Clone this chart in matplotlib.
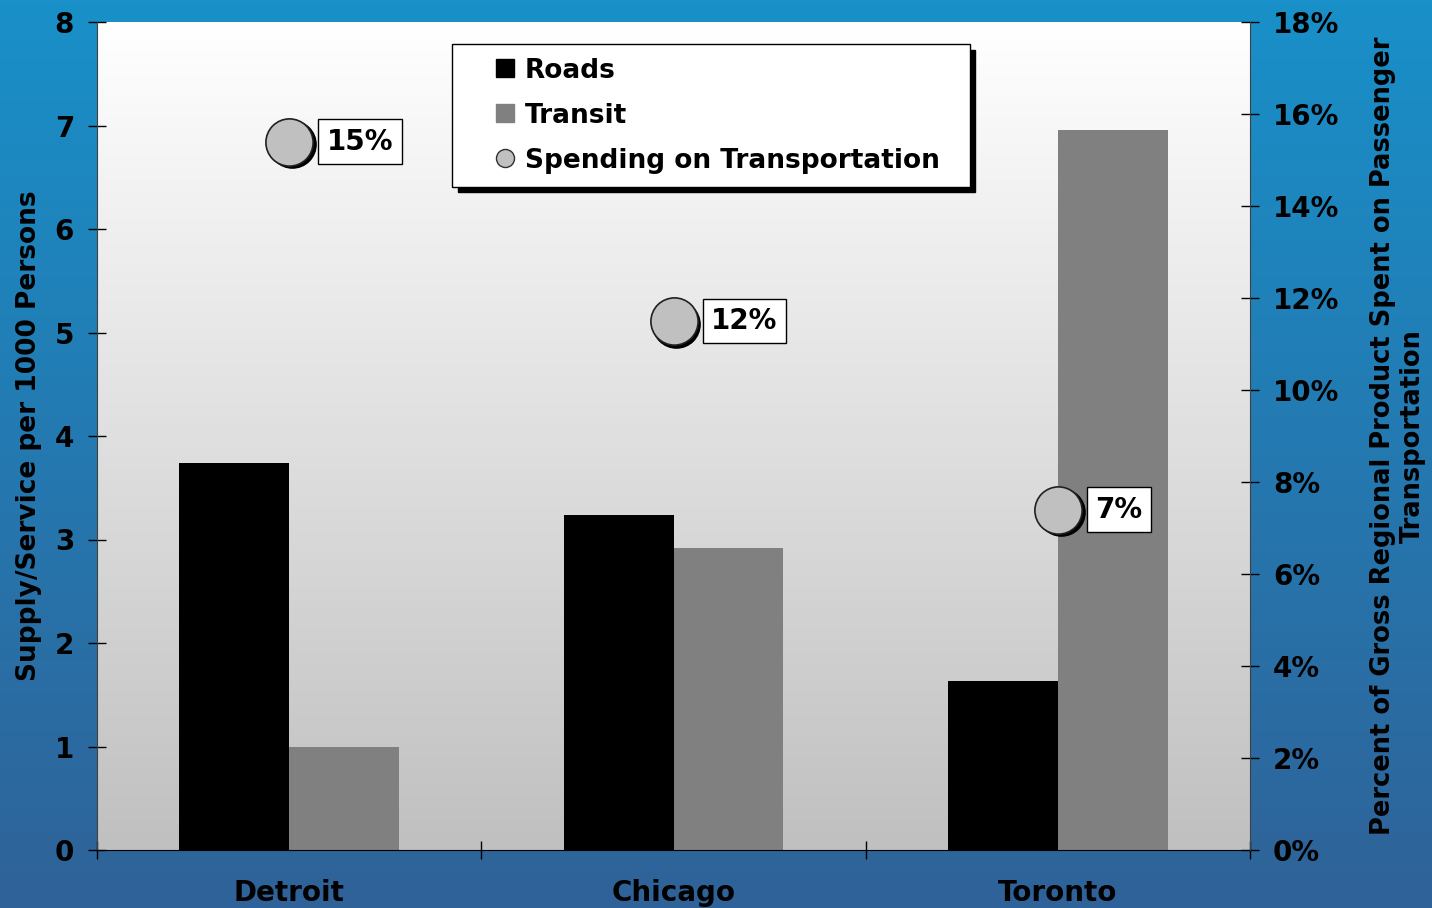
import matplotlib.pyplot as plt
import numpy as np
from matplotlib.lines import Line2D
from matplotlib.colors import LinearSegmentedColormap
from matplotlib.transforms import ScaledTranslation

plt.rcParams["font.family"] = ["DejaVu Sans"]
plt.rcParams["font.weight"] = "bold"

cities = ["Detroit", "Chicago", "Toronto"]
roads = [3.74, 3.24, 1.63]
transit = [1.0, 2.92, 6.96]
spending_pct = [15.4, 11.5, 7.4]

W, H = 1432, 908
fig = plt.figure(figsize=(W / 100, H / 100), dpi=100)

# blue backdrop, lighter at the top
bg = fig.add_axes([0, 0, 1, 1], zorder=-10)
bg_cmap = LinearSegmentedColormap.from_list("bg", ["#2f6298", "#1990c9"])
bg.imshow(np.linspace(0, 1, 256).reshape(-1, 1), cmap=bg_cmap, aspect="auto",
          origin="lower", extent=(0, 1, 0, 1))
bg.set_axis_off()

ax = fig.add_axes([97 / W, 58 / H, 1153 / W, 828 / H])
ax.patch.set_visible(False)
plot_cmap = LinearSegmentedColormap.from_list("plot", ["#c0c0c0", "#ffffff"])
ax.imshow(np.linspace(0, 1, 256).reshape(-1, 1), cmap=plot_cmap, aspect="auto",
          origin="lower", extent=(0, 1, 0, 1), transform=ax.transAxes, zorder=0)

x = np.arange(len(cities))
width = 0.286
ax.bar(x - width / 2, roads, width, color="black", zorder=2)
ax.bar(x + width / 2, transit, width, color="#808080", zorder=2)

ax.set_xlim(-0.5, len(cities) - 0.5)
ax.set_ylim(0, 8)
ax.set_yticks(range(0, 9))
ax.set_xticks(np.arange(-0.5, len(cities)), labels=[])
ax.set_xticks(x, labels=cities, minor=True)
ax.tick_params(axis="x", which="major", direction="inout", length=13, width=1)
ax.tick_params(axis="x", which="minor", length=0, pad=21, labelsize=20)
ax.tick_params(axis="y", direction="inout", length=13, width=1, pad=10, labelsize=20)
ax.spines["top"].set_visible(False)
ax.spines["right"].set_visible(False)
ax.spines["left"].set_color("#404040")
ax.set_ylabel("Supply/Service per 1000 Persons", fontsize=19, fontweight="bold")
ax.yaxis.set_label_coords(-0.048, 0.5)

ax2 = ax.twinx()
ax2.set_ylim(0, 18)
ax2.set_yticks(range(0, 19, 2))
ax2.set_yticklabels([f"{v}%" for v in range(0, 19, 2)])
ax2.tick_params(axis="y", direction="inout", length=13, width=1, pad=10, labelsize=20)
for side in ("top", "left", "bottom"):
    ax2.spines[side].set_visible(False)
ax2.spines["right"].set_color("#404040")
ax2.set_ylabel("Percent of Gross Regional Product Spent on Passenger\nTransportation",
               fontsize=18.5, fontweight="bold", multialignment="center")
ax2.yaxis.set_label_coords(1.104, 0.5)

# spending markers with a dark drop shadow and boxed value labels
shadow = ax2.transData + ScaledTranslation(2 / 72, -2 / 72, fig.dpi_scale_trans)
ax2.plot(x, spending_pct, "o", ls="none", ms=34, color="black", transform=shadow, zorder=3)
ax2.plot(x, spending_pct, "o", ls="none", ms=34, mfc="#c0c0c0", mec="#202020",
         mew=1.2, zorder=4)
for xi, val in zip(x, spending_pct):
    ax2.annotate(f"{val:.0f}%", (xi, val), xytext=(27, 0), textcoords="offset points",
                 ha="left", va="center", fontsize=20, fontweight="bold", zorder=5,
                 bbox=dict(boxstyle="square,pad=0.3", fc="white", ec="black", lw=1))

handles = [
    Line2D([], [], marker="s", ls="none", ms=13, color="black"),
    Line2D([], [], marker="s", ls="none", ms=13, color="#808080"),
    Line2D([], [], marker="o", ls="none", ms=13, mfc="#c0c0c0", mec="#303030"),
]
leg = ax2.legend(handles, ["Roads", "Transit", "Spending on Transportation"],
                 loc="upper left", bbox_to_anchor=(0.308, 0.0, 0.449, 0.973),
                 mode="expand", borderaxespad=0, borderpad=0.5, handlelength=3,
                 handletextpad=-0.75, labelspacing=0.72, fancybox=False,
                 edgecolor="black", framealpha=1,
                 shadow={"color": "black", "alpha": 1, "ox": 4, "oy": -4},
                 prop={"weight": "bold", "size": 19})
leg.get_frame().set_linewidth(1)
leg.set_zorder(6)

fig.savefig("out.png", dpi=100)
